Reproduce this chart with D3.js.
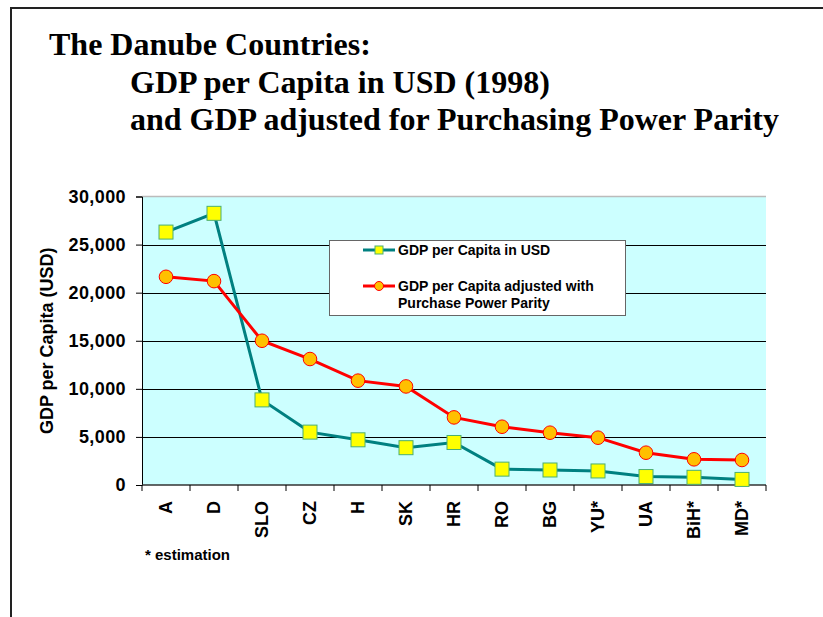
<!DOCTYPE html>
<html>
<head>
<meta charset="utf-8">
<script src="https://cdn.jsdelivr.net/npm/d3@7"></script>
<style>
  body { margin: 0; background: #fff; }
  svg { display: block; }
  text { font-family: "Liberation Sans", Arial, sans-serif; font-weight: bold; fill: #000; }
  .title { font-family: "Liberation Serif", "Times New Roman", serif; font-size: 32px; }
</style>
</head>
<body>
<div id="chart"></div>
<script>
var countries = ["A", "D", "SLO", "CZ", "H", "SK", "HR", "RO", "BG", "YU*", "UA", "BiH*", "MD*"];
var gdpUsd = [26300, 28250, 8850, 5500, 4700, 3880, 4420, 1650, 1560, 1460, 880, 800, 580];
var gdpPpp = [21650, 21200, 15000, 13100, 10850, 10250, 7030, 6060, 5440, 4920, 3360, 2670, 2600];
var yTicks = [0, 5000, 10000, 15000, 20000, 25000, 30000];
var titleLines = ["The Danube Countries:", "GDP per Capita in USD (1998)", "and GDP adjusted for Purchasing Power Parity"];
var legendLabels = ["GDP per Capita in USD", ["GDP per Capita adjusted with", "Purchase Power Parity"]];

var W = 823, H = 617;
var plotL = 142, plotR = 766, plotT = 196.5, plotB = 485;

var svg = d3.select("#chart").append("svg").attr("width", W).attr("height", H);

// page frame (left and top only, like the slide edge)
svg.append("line").attr("x1", 11).attr("x2", 11).attr("y1", 8).attr("y2", H)
  .attr("stroke", "#222").attr("stroke-width", 2);
svg.append("line").attr("x1", 10).attr("x2", W).attr("y1", 8).attr("y2", 8)
  .attr("stroke", "#222").attr("stroke-width", 2);

// title
var titleX = [49, 130, 130], titleY = [55, 93, 130];
svg.selectAll("text.title").data(titleLines).enter().append("text")
  .attr("class", "title")
  .attr("x", function(d, i) { return titleX[i]; })
  .attr("y", function(d, i) { return titleY[i]; })
  .text(function(d) { return d; });

var x = d3.scaleBand().domain(countries).range([plotL, plotR]);
var y = d3.scaleLinear().domain([0, 30000]).range([plotB, plotT]);

// plot area
svg.append("rect").attr("x", plotL).attr("y", plotT).attr("width", plotR - plotL).attr("height", plotB - plotT)
  .attr("fill", "#CCFFFF");
svg.append("line").attr("x1", plotL).attr("x2", plotR).attr("y1", plotT).attr("y2", plotT)
  .attr("stroke", "#bbb").attr("stroke-width", 1.5);

// gridlines
svg.append("g").selectAll("line").data(yTicks.filter(function(d) { return d > 0 && d < 30000; }))
  .enter().append("line")
  .attr("x1", plotL).attr("x2", plotR)
  .attr("y1", function(d) { return Math.round(y(d)) + 0.5; })
  .attr("y2", function(d) { return Math.round(y(d)) + 0.5; })
  .attr("stroke", "#000").attr("stroke-width", 1);

// y axis
var yAxis = svg.append("g").attr("transform", "translate(" + plotL + ",0)")
  .call(d3.axisLeft(y).tickValues(yTicks).tickSize(6).tickPadding(10).tickFormat(d3.format(",")));
yAxis.select(".domain").attr("stroke", "#000");
yAxis.selectAll("text").style("font-size", "18px").style("letter-spacing", "0.4px").attr("fill", "#000");

// x axis: ticks between categories
var xAxis = svg.append("g").attr("transform", "translate(0," + plotB + ")");
xAxis.append("line").attr("x1", plotL).attr("x2", plotR).attr("y1", 0).attr("y2", 0)
  .attr("stroke", "#333").attr("stroke-width", 1.5);
var bounds = countries.map(function(c) { return x(c); }).concat([plotR]);
xAxis.selectAll("line.tick").data(bounds).enter().append("line")
  .attr("class", "tick")
  .attr("x1", function(d) { return d; }).attr("x2", function(d) { return d; })
  .attr("y1", 0).attr("y2", 6).attr("stroke", "#000");
xAxis.selectAll("text").data(countries).enter().append("text")
  .attr("transform", function(d) { return "translate(" + (x(d) + x.bandwidth() / 2) + ",16) rotate(-90)"; })
  .attr("text-anchor", "end").attr("dy", "0.35em")
  .style("font-size", "18px")
  .text(function(d) { return d; });

// y title
svg.append("text")
  .attr("transform", "translate(53," + ((plotT + plotB) / 2) + ") rotate(-90)")
  .attr("text-anchor", "middle").style("font-size", "18px")
  .text("GDP per Capita (USD)");

// note
svg.append("text").attr("x", 145).attr("y", 560).style("font-size", "15px").text("* estimation");

// lines
var line = d3.line().x(function(d, i) { return x(countries[i]) + x.bandwidth() / 2; })
  .y(function(d) { return y(d); });

svg.append("path").datum(gdpUsd).attr("d", line)
  .attr("fill", "none").attr("stroke", "#008080").attr("stroke-width", 3);
svg.append("path").datum(gdpPpp).attr("d", line)
  .attr("fill", "none").attr("stroke", "#FF0000").attr("stroke-width", 3);

svg.append("g").selectAll("circle").data(gdpPpp).enter().append("circle")
  .attr("cx", function(d, i) { return x(countries[i]) + x.bandwidth() / 2; })
  .attr("cy", function(d) { return y(d); })
  .attr("r", 6.8).attr("fill", "#FFC000").attr("stroke", "#FF0000").attr("stroke-width", 1);

svg.append("g").selectAll("rect").data(gdpUsd).enter().append("rect")
  .attr("x", function(d, i) { return x(countries[i]) + x.bandwidth() / 2 - 7; })
  .attr("y", function(d) { return y(d) - 7; })
  .attr("width", 14).attr("height", 14)
  .attr("fill", "#FFFF00").attr("stroke", "#4CAF70").attr("stroke-width", 1);

// legend
var lg = svg.append("g");
lg.append("rect").attr("x", 329.5).attr("y", 240.5).attr("width", 296).attr("height", 75)
  .attr("fill", "#fff").attr("stroke", "#666").attr("stroke-width", 1);
lg.append("line").attr("x1", 363).attr("x2", 395).attr("y1", 250).attr("y2", 250)
  .attr("stroke", "#008080").attr("stroke-width", 3);
lg.append("rect").attr("x", 375).attr("y", 246).attr("width", 8).attr("height", 8)
  .attr("fill", "#FFFF00").attr("stroke", "#4CAF70");
lg.append("line").attr("x1", 363).attr("x2", 395).attr("y1", 286).attr("y2", 286)
  .attr("stroke", "#FF0000").attr("stroke-width", 3);
lg.append("circle").attr("cx", 379).attr("cy", 286).attr("r", 4.5)
  .attr("fill", "#FFC000").attr("stroke", "#FF0000");
lg.append("text").attr("x", 398).attr("y", 255).style("font-size", "14px").text(legendLabels[0]);
lg.append("text").attr("x", 398).attr("y", 291).style("font-size", "14px").text(legendLabels[1][0]);
lg.append("text").attr("x", 398).attr("y", 308).style("font-size", "14px").text(legendLabels[1][1]);
</script>
</body>
</html>
